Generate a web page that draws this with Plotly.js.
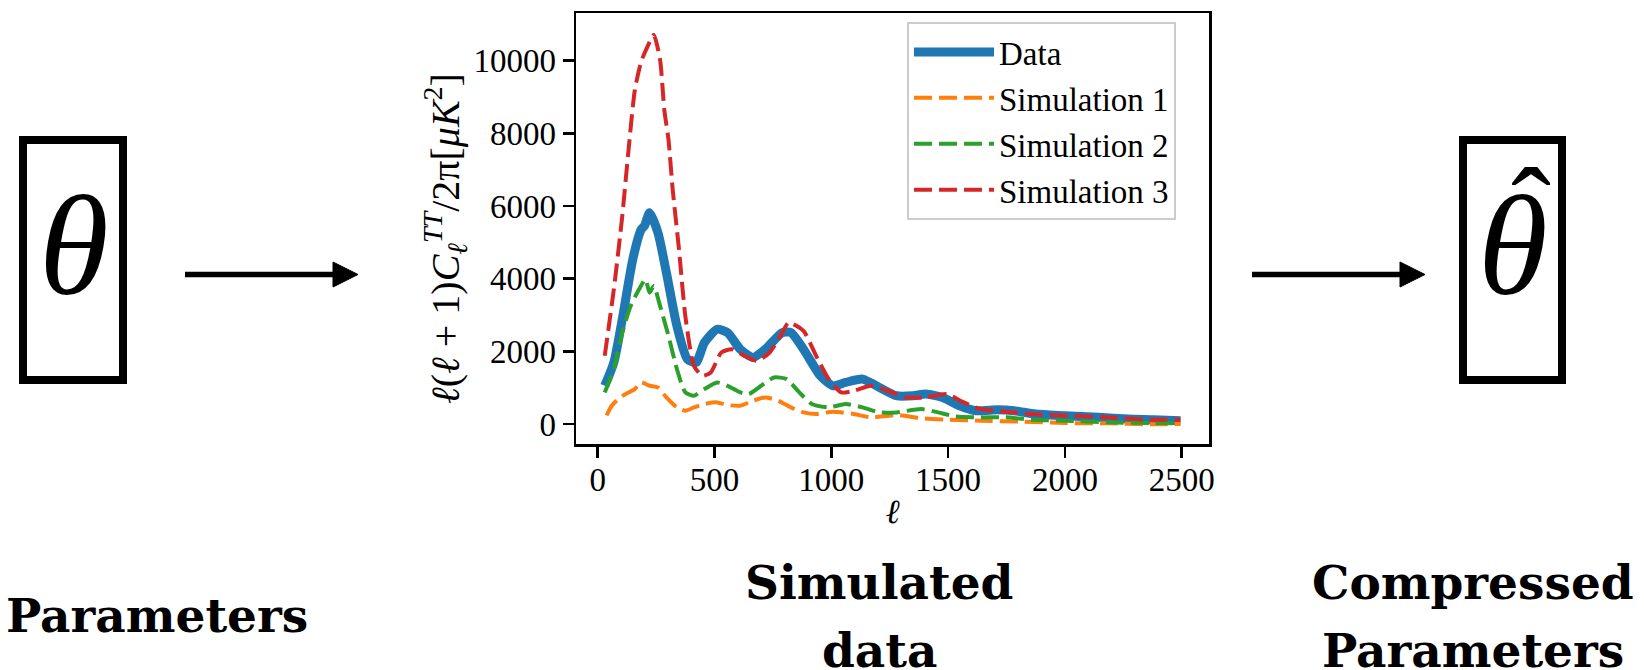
<!DOCTYPE html>
<html>
<head>
<meta charset="utf-8">
<script src="https://cdn.plot.ly/plotly-3.0.1.min.js"></script>
<style>html,body{margin:0;padding:0;background:#fff;}#chart{width:1644px;height:670px;}</style>
</head>
<body>
<div id="chart"></div>
<script>
// ---- data ----
const ellData = [30, 69, 105, 150, 186, 200, 222, 258, 294, 339, 384, 421, 457, 511, 556, 610, 664, 718, 790, 827, 881, 953, 1007, 1061, 1134, 1206, 1278, 1350, 1404, 1476, 1549, 1621, 1711, 1783, 1874, 2000, 2144, 2271, 2379, 2495];
const dataVals = [1050, 1693, 2882, 4529, 5352, 5450, 5810, 5261, 4163, 2699, 1784, 1693, 2241, 2607, 2516, 2058, 1830, 2058, 2516, 2516, 2058, 1327, 1052, 1144, 1235, 1006, 778, 778, 823, 732, 503, 366, 393, 366, 274, 229, 183, 137, 119, 91];

const ellSim1 = [38, 60, 96, 132, 159, 186, 222, 258, 294, 339, 375, 412, 457, 511, 556, 610, 664, 718, 773, 827, 881, 935, 1007, 1097, 1170, 1278, 1386, 1494, 1639, 1819, 2000, 2180, 2361, 2495];
const sim1 = [240, 503, 732, 869, 961, 1144, 1052, 1006, 732, 457, 366, 457, 549, 595, 522, 503, 640, 732, 640, 457, 320, 274, 339, 274, 183, 247, 156, 119, 91, 64, 27, 18, -9, 0];

const ellSim2 = [30, 69, 105, 141, 177, 204, 222, 240, 267, 303, 339, 375, 412, 457, 511, 556, 610, 646, 700, 755, 809, 863, 917, 989, 1061, 1134, 1206, 1278, 1386, 1458, 1531, 1639, 1747, 1856, 2000, 2180, 2361, 2495];
const sim2 = [869, 1510, 2516, 3248, 3705, 3980, 3614, 3797, 3248, 2424, 1510, 869, 778, 961, 1144, 1052, 869, 823, 1052, 1281, 1235, 869, 549, 457, 549, 457, 320, 320, 412, 320, 210, 183, 183, 119, 91, 46, 27, 18];

const ellSim3 = [30, 69, 105, 132, 159, 186, 213, 240, 267, 285, 303, 321, 348, 375, 412, 448, 484, 529, 574, 628, 682, 736, 782, 818, 881, 935, 989, 1043, 1097, 1170, 1242, 1314, 1404, 1494, 1567, 1639, 1747, 1856, 2000, 2180, 2361, 2495];
const sim3 = [1880, 3705, 5718, 7548, 9195, 9972, 10384, 10704, 10018, 8646, 7822, 6450, 4803, 2973, 1601, 1327, 1418, 1967, 2058, 1875, 1738, 1967, 2424, 2790, 2562, 1875, 1235, 869, 915, 1052, 915, 732, 732, 823, 595, 412, 339, 274, 229, 183, 119, 119];

const seriesNames = ["Data", "Simulation 1", "Simulation 2", "Simulation 3"];
const xTicks = [0, 500, 1000, 1500, 2000, 2500];
const yTicks = [0, 2000, 4000, 6000, 8000, 10000];

// ---- layout geometry (pixels) ----
const L = 576, T = 13, W = 633, H = 431;
const px = v => (v - L) / W;
const py = v => (T + H - v) / H;
const serif = "Liberation Serif, Times New Roman, serif";
const boldSerif = "DejaVu Serif, serif";

const dashed = {dash: "18px,7px", width: 4, shape: "spline", smoothing: 0.6};
const traces = [
  {x: ellData, y: dataVals, name: seriesNames[0], mode: "lines", legendgroup: "a",
   line: {color: "#1f77b4", width: 9, shape: "spline", smoothing: 0.6}},
  {x: ellSim1, y: sim1, name: seriesNames[1], mode: "lines", legendgroup: "b",
   line: Object.assign({color: "#ff7f0e"}, dashed)},
  {x: ellSim2, y: sim2, name: seriesNames[2], mode: "lines", legendgroup: "c",
   line: Object.assign({color: "#2ca02c"}, dashed)},
  {x: ellSim3, y: sim3, name: seriesNames[3], mode: "lines", legendgroup: "d",
   line: Object.assign({color: "#d62728"}, dashed)}
];

function box(x0, x1, y0, y1) {
  return {type: "rect", xref: "paper", yref: "paper", x0: px(x0), x1: px(x1), y0: py(y0), y1: py(y1),
          line: {color: "black", width: 8}, fillcolor: "rgba(0,0,0,0)"};
}
function arrowLine(x0, x1, y) {
  return {type: "line", xref: "paper", yref: "paper", x0: px(x0), x1: px(x1), y0: py(y), y1: py(y),
          line: {color: "black", width: 5.5}};
}
function arrowHead(x0, x1, y, h) {
  return {type: "path", xref: "paper", yref: "paper",
          path: `M ${px(x0)} ${py(y - h)} L ${px(x1)} ${py(y)} L ${px(x0)} ${py(y + h)} Z`,
          fillcolor: "black", line: {color: "black", width: 1}};
}

const shapes = [
  box(23, 123, 140, 380),
  box(1463, 1562, 140, 380),
  arrowLine(185, 340, 274.5),
  arrowHead(333, 358, 274.5, 12.5),
  arrowLine(1252, 1407, 274.5),
  arrowHead(1400, 1425, 274.5, 12.5)
];

function txt(text, x, y, size, family, xanchor) {
  return {text: text, xref: "paper", yref: "paper", x: px(x), y: py(y), showarrow: false,
          xanchor: xanchor || "center", yanchor: "middle", font: {family: family, size: size, color: "black"}};
}

const annotations = [
  txt("<i>θ</i>", 74, 246, 142, serif),
  txt("<i>θ</i>", 1513, 246, 142, serif),
  txt("ˆ", 1531, 211, 120, serif),
  txt("<b>Parameters</b>", 157, 615, 47, boldSerif),
  txt("<b>Simulated</b>", 879, 582, 47, boldSerif),
  txt("<b>data</b>", 879, 650, 47, boldSerif),
  txt("<b>Compressed</b>", 1473, 582, 47, boldSerif),
  txt("<b>Parameters</b>", 1473, 650, 47, boldSerif)
];

const axisCommon = {
  showgrid: false, zeroline: false, showline: true, mirror: true,
  linecolor: "black", linewidth: 2.5, ticks: "outside", ticklen: 11, tickwidth: 2.5,
  tickcolor: "black", tickfont: {family: serif, size: 33, color: "black"}
};

const layout = {
  width: 1644, height: 670,
  margin: {l: L, r: 1644 - L - W, t: T, b: 670 - T - H, pad: 0},
  paper_bgcolor: "white", plot_bgcolor: "white",
  font: {family: serif, color: "black"},
  xaxis: Object.assign({}, axisCommon, {
    range: [-93, 2617], tickvals: xTicks, ticktext: xTicks.map(String), ticklabelstandoff: -6,
    title: {text: "<i>ℓ</i>", font: {family: serif, size: 34}, standoff: 2}
  }),
  yaxis: Object.assign({}, axisCommon, {
    range: [-550, 11309], tickvals: yTicks, ticktext: yTicks.map(String),
    title: {text: "<i>ℓ</i>(<i>ℓ</i> + 1)<i>C</i><sub><i>ℓ</i></sub><sup><i>TT</i></sup>/2π[<i>μK</i><sup>2</sup>]&nbsp;&nbsp;",
            font: {family: serif, size: 40}, standoff: 0}
  }),
  showlegend: true,
  legend: {x: px(907), y: py(22), xanchor: "left", yanchor: "top", itemwidth: 80,
           bgcolor: "rgba(255,255,255,0.8)", bordercolor: "#cccccc", borderwidth: 2,
           font: {family: serif, size: 33, color: "black"}, tracegroupgap: 0},
  shapes: shapes,
  annotations: annotations
};

Plotly.newPlot("chart", traces, layout, {staticPlot: true, displayModeBar: false});
</script>
</body>
</html>
